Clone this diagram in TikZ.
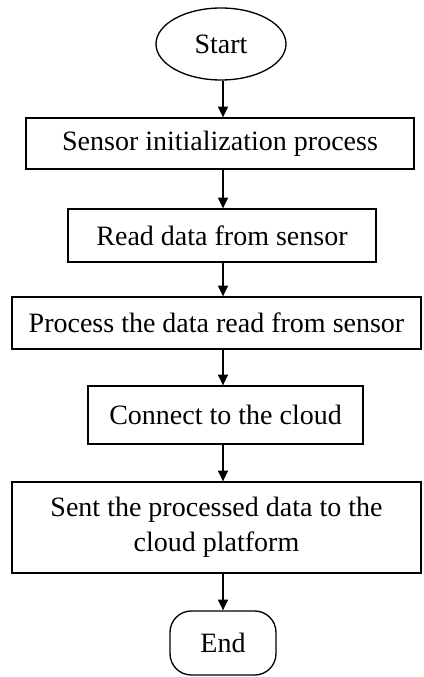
\documentclass[tikz,border=0pt]{standalone}
\usepackage{fontspec}
\setmainfont{Liberation Serif}
\usetikzlibrary{arrows, arrows.meta, shapes, positioning}
\tikzstyle{terminal} = [ellipse, draw=black, line width=1pt, inner sep=0]
\tikzstyle{stepbox} = [rectangle, draw=black, line width=1pt, inner sep=0, align=center]
\tikzstyle{flow} = [-{Triangle[length=8pt, width=7.5pt]}, line width=1pt]

\begin{document}
\begin{tikzpicture}[x=0.75pt, y=-0.75pt, font=\fontsize{21}{26}\selectfont]
	\useasboundingbox (0, 0) rectangle (424, 677);

	\node (Start) [terminal, minimum width=97.5pt, minimum height=54pt] at (221, 44) {Start};

	% sensor side
	\node (Init) [stepbox, minimum width=291pt, minimum height=38.25pt] at (220, 143.5) {Sensor initialization process};
	\node (Read) [stepbox, minimum width=231pt, minimum height=39.75pt] at (222, 235.5) {Read data from sensor};
	\node (Proc) [stepbox, minimum width=306.75pt, minimum height=39pt] at (216.5, 323) {Process the data read from sensor};

	% cloud side
	\node (Conn) [stepbox, minimum width=206.25pt, minimum height=43.5pt] at (225.5, 415) {Connect to the cloud};
	\node (Send) [stepbox, minimum width=306.75pt, minimum height=68.25pt] at (216.5, 527.5) {Sent the processed data to the\\cloud platform};

	\node (End) [rectangle, draw=black, line width=1pt, rounded corners=16pt, minimum width=79.5pt, minimum height=48pt] at (223, 643) {End};

	\coordinate (Axis) at (223, 0);
	\draw [flow] (Start.south -| Axis) -- (Init.north -| Axis);
	\draw [flow] (Init.south -| Axis) -- (Read.north -| Axis);
	\draw [flow] (Read.south -| Axis) -- (Proc.north -| Axis);
	\draw [flow] (Proc.south -| Axis) -- (Conn.north -| Axis);
	\draw [flow] (Conn.south -| Axis) -- (Send.north -| Axis);
	\draw [flow] (Send.south -| Axis) -- (End.north -| Axis);
\end{tikzpicture}
\end{document}
